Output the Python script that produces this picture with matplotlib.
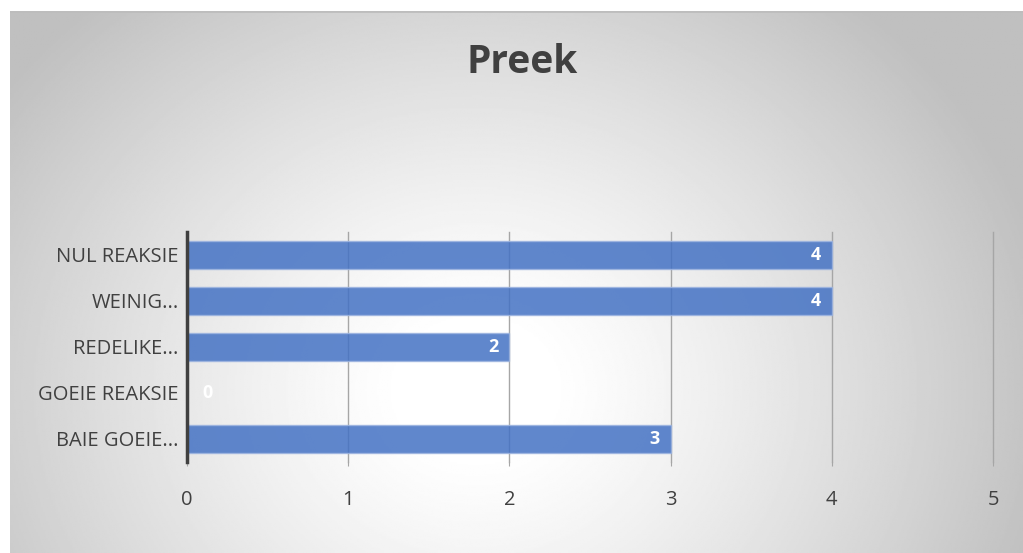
import numpy as np
import matplotlib.pyplot as plt

# gegewens van die grafiek (van onder na bo)
kategoriee = ["BAIE GOEIE...", "GOEIE REAKSIE", "REDELIKE...", "WEINIG...", "NUL REAKSIE"]
waardes = [3, 0, 2, 4, 4]
x_ticks = [0, 1, 2, 3, 4, 5]

plt.rcParams['font.family'] = ['Open Sans', 'DejaVu Sans']

W, H = 1023, 553
fig = plt.figure(figsize=(W / 100, H / 100), dpi=100)
fig.patch.set_facecolor("white")

# RADIALE GRADIENT AGTERGROND
bg = fig.add_axes([10 / W, 0, 1 - 10 / W, 1 - 11 / H])
bg.set_axis_off()
yy, xx = np.mgrid[0:300, 0:600]
xn = (xx / 599.0 - 0.46) / 0.58
yn = (yy / 299.0 - 0.70) / 0.95
r = np.sqrt(xn ** 2 + yn ** 2)
grys = 1.0 - 0.25 * np.clip((r - 0.12) / 0.88, 0, 1) ** 1.2
bg.imshow(grys, cmap="gray", vmin=0, vmax=1, aspect="auto", origin="upper",
          extent=[0, 1, 0, 1])
bg.set_xlim(0, 1)
bg.set_ylim(0, 1)
bg.axhline(1, color="#bdbdbd", lw=2)

# GRAFIEK
ax = fig.add_axes([187 / W, 1 - 462 / H, (993 - 187) / W, (462 - 232) / H])
ax.patch.set_alpha(0)
y = np.arange(len(kategoriee))
ax.barh(y, waardes, height=0.6, color="#4472C4", alpha=0.85,
        edgecolor="#9db4e0", linewidth=1, zorder=3)

for yi, v in zip(y, waardes):
    if v > 0:
        ax.annotate(str(v), (v, yi), xytext=(-8, 0), textcoords="offset points",
                    ha="right", va="center", color="white", fontsize=13,
                    fontweight="bold", zorder=4)
    else:
        ax.annotate(str(v), (v, yi), xytext=(11, 0), textcoords="offset points",
                    ha="left", va="center", color="white", fontsize=13,
                    fontweight="bold", zorder=4)

ax.set_xlim(0, 5)
ax.set_ylim(-0.5, len(kategoriee) - 0.5)
ax.set_xticks(x_ticks)
ax.set_yticks(y)
ax.set_yticklabels(kategoriee)
ax.grid(axis="x", color="#a6a6a6", lw=1, zorder=1)
for gl in ax.get_xgridlines():
    gl.set_clip_on(False)
ax.tick_params(axis="x", length=3, color="#a6a6a6", pad=17, labelsize=14.5,
               labelcolor="#404040")
ax.tick_params(axis="y", length=0, pad=6, labelsize=14.5, labelcolor="#404040")
for s in ["top", "right", "bottom"]:
    ax.spines[s].set_visible(False)
ax.spines["left"].set_color("#404040")
ax.spines["left"].set_linewidth(2.5)
ax.spines["left"].set_zorder(5)

fig.text(522 / W, 1 - 63 / H, "Preek", ha="center", va="center",
         fontsize=28, fontweight="bold", color="#404040")

fig.savefig("out.png", dpi=100)
